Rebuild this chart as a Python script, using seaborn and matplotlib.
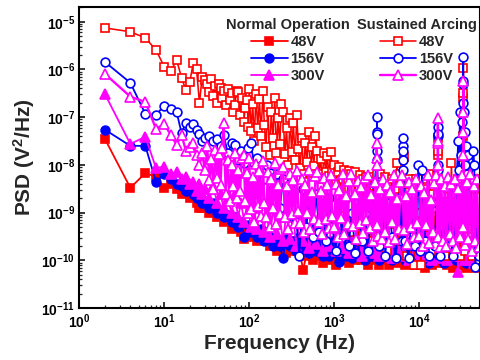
import matplotlib
matplotlib.use("Agg")
import matplotlib.pyplot as plt
import numpy as np
import seaborn as sns

# frequency grid of the normal-operation traces and of the 156V arcing trace (Hz)
freq = [
    2, 4, 6, 8, 10, 12, 14, 16, 18, 20,
    22, 24, 26, 28, 30, 34, 38, 42, 46, 50,
    56, 62, 68, 74, 80, 88, 96, 104, 114, 124,
    136, 148, 160, 176, 192, 210, 230, 250, 274, 300,
    330, 360, 390, 430, 470, 510, 560, 610, 670, 730,
    800, 870, 950, 1040, 1140, 1240, 1360, 1480, 1620, 1770,
    1930, 2100, 2300, 2500, 2740, 3000, 3190, 3195, 3200, 3205,
    3210, 3400, 3700, 4000, 4400, 4800, 5300, 5800, 6200, 6490,
    6495, 6500, 6505, 6510, 6900, 7500, 8200, 9000, 9800, 10300,
    10800, 11800, 12900, 14000, 15300, 16680, 16690, 16700, 16710, 16720,
    17800, 19400, 21100, 23000, 25100, 27300, 28800, 29500, 30200, 31000,
    31800, 32600, 32900, 33000, 33100, 33400, 34200, 35000, 36000, 37000,
    38000, 39500, 41500, 43400, 44500, 46000, 48000, 50000,
]

# denser grid for the 48V and 300V arcing traces, which form the big clouds (Hz)
freq_dense = [
    2, 4, 6, 8, 10, 12, 14, 16, 18, 20, 22, 24, 26, 28, 30,
    32, 34, 36, 38, 40, 42, 44, 46, 48, 50,
    53, 56, 59, 62, 65, 68, 71, 74, 78, 82,
    86, 90, 94, 98,
    100, 105, 110, 115, 120, 126, 132, 138, 145, 151,
    158, 166, 174, 182, 191, 200, 209, 219, 229, 240,
    251, 263, 275, 288, 302, 316, 331, 347, 363, 380,
    398, 417, 437, 457, 479, 501, 525, 550, 575, 603,
    631, 661, 692, 724, 759, 794, 832, 871, 912, 955,
    1000, 1050, 1100, 1150, 1200, 1260, 1320, 1380, 1450, 1510,
    1580, 1660, 1740, 1820, 1910, 2000, 2090, 2190, 2290, 2400,
    2510, 2630, 2750, 2880, 3020, 3160, 3165, 3170, 3175, 3310, 3470, 3630, 3800,
    3980, 4170, 4370, 4570, 4790, 5010, 5250, 5500, 5750, 6030,
    6310, 6610, 6920, 7240, 7590, 7940, 8320, 8710, 9120, 9550,
    10000, 10500, 11000, 11500, 12000, 12600, 13200, 13800, 14500, 15100,
    15800, 16600, 16610, 16620, 16630, 16640, 17400, 18200, 19100, 20000,
    20900, 21900, 22900, 24000,
    25100, 26300, 27500, 28800, 30200, 31600, 33100, 33110, 33120, 33130,
    33140, 34700, 36300, 38000,
    39800, 41700, 43700, 45700, 47900, 50100,
]

# log10 of PSD (V^2/Hz)
normal_48 = [
    -7.45, -8.48, -8.17, -8.25, -8.48, -8.4, -8.5, -8.6, -8.55, -8.7,
    -8.65, -8.8, -8.9, -8.9, -8.85, -9.0, -8.95, -9.1, -9.05, -9.2,
    -9.15, -9.34, -9.2, -9.3, -9.4, -9.55, -9.3, -9.5, -9.34, -9.6,
    -9.45, -9.55, -9.5, -9.7, -9.55, -9.8, -9.6, -9.7, -9.85, -9.6,
    -9.8, -9.65, -9.75, -10.2, -9.9, -9.75, -10.0, -9.8, -9.9, -10.05,
    -9.85, -10.0, -9.8, -10.1, -9.9, -10.0, -9.85, -10.05, -9.9, -10.0,
    -9.8, -10.0, -9.9, -10.1, -9.85, -10.0, -9.7, -9.6, -9.5, -9.7,
    -9.9, -10.1, -9.85, -10.0, -10.1, -9.9, -10.05, -9.7, -10.0, -9.6,
    -9.5, -9.45, -9.6, -10.0, -10.1, -9.9, -10.0, -10.1, -9.8, -10.05,
    -10.0, -10.15, -9.9, -10.1, -10.0, -9.7, -9.5, -9.4, -9.6, -9.9,
    -10.05, -9.9, -10.1, -10.0, -10.15, -9.9, -10.0, -9.8, -10.1, -9.9,
    -10.0, -9.6, -9.3, -9.1, -9.4, -9.7, -10.1, -9.9, -10.15, -9.8,
    -10.05, -10.1, -9.9, -10.1, -10.0, -10.15, -9.95, -10.1,
]
normal_156 = [
    -7.26, -7.6, -7.6, -8.35, -8.2, -8.3, -8.4, -8.45, -8.55, -8.5,
    -8.6, -8.7, -8.65, -8.8, -8.75, -8.9, -8.8, -9.0, -8.95, -9.1,
    -9.05, -9.2, -9.1, -9.3, -9.2, -9.5, -9.25, -9.4, -9.3, -9.5,
    -9.35, -9.6, -9.4, -9.5, -9.7, -9.6, -9.7, -9.95, -9.5, -9.7,
    -9.6, -9.8, -9.5, -9.75, -9.6, -9.85, -9.55, -9.8, -9.6, -9.9,
    -9.7, -9.9, -9.6, -9.85, -10.03, -9.7, -9.9, -9.6, -9.95, -9.7,
    -9.9, -9.7, -10.0, -9.6, -9.9, -9.7, -9.6, -9.5, -9.4, -9.6,
    -9.9, -10.0, -9.7, -9.9, -9.6, -10.0, -9.8, -9.9, -9.7, -9.5,
    -9.4, -9.3, -9.5, -9.9, -10.0, -9.7, -9.9, -9.6, -9.4, -10.0,
    -9.8, -9.9, -10.05, -9.7, -9.9, -9.6, -9.4, -9.3, -9.5, -9.8,
    -9.9, -10.05, -9.7, -9.95, -9.8, -10.0, -9.7, -9.9, -9.6, -10.0,
    -9.8, -9.5, -9.2, -9.0, -9.3, -9.6, -10.0, -9.8, -10.05, -9.7,
    -9.9, -10.0, -9.8, -10.05, -9.9, -10.0, -9.85, -10.1,
]
normal_300 = [
    -6.51, -7.56, -7.41, -8.06, -8.04, -8.2, -8.15, -8.3, -8.25, -8.4,
    -8.35, -8.55, -8.4, -8.6, -8.5, -8.7, -8.45, -8.8, -8.6, -8.9,
    -8.7, -9.0, -8.6, -9.1, -8.8, -9.2, -8.7, -9.3, -8.9, -9.35,
    -8.8, -9.4, -9.0, -9.5, -8.9, -9.45, -9.1, -9.6, -9.0, -9.55,
    -9.1, -9.7, -9.2, -9.6, -9.0, -9.75, -9.3, -9.65, -9.1, -9.8,
    -9.3, -9.7, -9.1, -9.8, -9.4, -9.75, -9.2, -9.85, -9.4, -9.8,
    -9.3, -9.9, -9.4, -9.8, -9.2, -9.85, -9.3, -8.8, -8.6, -9.0,
    -9.4, -9.9, -9.3, -9.8, -9.5, -9.95, -9.2, -9.85, -9.4, -9.0,
    -8.9, -9.1, -9.3, -9.9, -9.4, -10.0, -9.3, -9.85, -9.5, -9.95,
    -9.3, -9.9, -9.4, -10.0, -9.5, -9.2, -8.8, -8.6, -8.9, -9.3,
    -9.95, -9.4, -10.0, -9.5, -9.9, -9.3, -10.24, -9.6, -9.9, -9.5,
    -9.9, -9.2, -8.9, -8.6, -8.9, -9.3, -10.0, -9.6, -9.95, -9.5,
    -10.0, -9.6, -9.9, -9.5, -10.05, -9.7, -9.9, -9.8,
]
arcing_156 = [
    -5.84, -6.28, -6.93, -6.95, -6.76, -6.82, -6.89, -7.33, -7.12, -7.2,
    -7.15, -7.26, -7.35, -7.5, -7.43, -7.4, -7.5, -7.45, -7.6, -7.37,
    -7.75, -7.55, -7.58, -7.9, -7.7, -7.95, -7.64, -7.54, -7.96, -7.85,
    -8.1, -8.3, -8.0, -8.17, -8.5, -8.2, -8.9, -8.3, -9.1, -8.4,
    -8.6, -9.2, -9.9, -8.5, -9.3, -8.7, -9.5, -8.6, -9.4, -8.8,
    -9.6, -8.7, -9.3, -9.8, -8.8, -9.5, -8.7, -9.7, -9.0, -9.85,
    -8.8, -9.6, -9.0, -9.8, -8.9, -8.4, -7.7, -7.3, -7.0, -7.35,
    -7.9, -9.7, -8.6, -9.9, -8.8, -9.5, -9.95, -8.7, -9.6, -7.9,
    -7.6, -7.43, -7.7, -8.1, -9.6, -9.95, -8.9, -9.7, -8.0, -9.8,
    -8.1, -9.6, -9.9, -8.8, -9.7, -8.0, -7.4, -7.2, -7.35, -8.1,
    -9.9, -9.0, -9.7, -8.9, -9.9, -8.5, -7.5, -8.1, -6.9, -7.8,
    -7.1, -6.7, -6.3, -5.73, -6.25, -6.9, -7.3, -8.0, -7.6, -8.2,
    -7.8, -9.0, -8.3, -7.7, -8.0, -10.14, -9.2, -9.9,
]
arcing_48 = [
    -5.13, -5.21, -5.34, -5.59, -5.94, -6.03, -5.8, -6.17, -6.43, -6.26,
    -5.86, -5.99, -6.7, -6.15, -6.22,
    -6.3, -6.47, -6.2, -6.55, -6.35, -6.7, -6.3, -6.38, -6.6, -6.45,
    -6.75, -6.4, -6.65, -6.5, -6.9, -6.74, -6.45, -6.47, -6.95, -6.6,
    -7.1, -6.8, -6.65, -7.2,
    -6.4, -7.28, -6.73, -7.5, -6.51, -7.23, -6.62, -7.39, -6.46, -7.17,
    -7.62, -6.78, -7.8, -6.9, -7.44, -6.6, -7.74, -7.02, -7.56, -6.72,
    -6.9, -7.78, -7.23, -8.0, -7.01, -7.73, -7.12, -7.89, -6.96, -7.67,
    -8.07, -7.44, -8.2, -7.53, -7.93, -7.3, -8.16, -7.62, -8.02, -7.39,
    -7.7, -8.18, -7.88, -8.3, -7.76, -8.15, -7.82, -8.24, -7.73, -8.12,
    -8.0, -8.4, -8.15, -8.05, -8.9, -8.3, -8.1, -9.2, -8.35, -8.12,
    -8.2, -9.4, -8.15, -8.8, -9.6, -8.22, -9.0, -8.3, -9.5, -8.25,
    -9.3, -8.25, -9.6, -8.6, -9.1, -8.3, -8.2, -8.6, -9.0, -9.5, -8.2, -9.6, -8.9,
    -8.25, -9.8, -8.8, -9.4, -8.3, -9.6, -8.5, -7.95, -9.4, -8.2,
    -8.7, -7.83, -8.4, -9.9, -8.3, -9.5, -8.9, -10.1, -8.3, -9.6,
    -9.0, -10.1, -8.3, -9.7, -8.5, -9.3, -8.2, -9.8, -8.6, -9.4,
    -8.9, -8.4, -7.8, -7.43, -7.7, -8.3, -9.8, -8.4, -9.3, -8.6,
    -9.9, -8.5, -9.4, -7.96,
    -9.9, -8.6, -9.4, -8.3, -9.9, -8.2, -7.4, -6.6, -5.96, -6.5,
    -8.0, -9.8, -8.6, -9.5,
    -8.3, -9.9, -8.5, -9.6, -8.3, -10.0,
]
arcing_300 = [
    -6.09, -6.57, -6.68, -7.24, -7.15, -7.37, -7.58, -7.37, -7.7, -7.62,
    -7.55, -7.8, -8.0, -7.75, -8.1,
    -7.6, -8.32, -7.87, -8.5, -7.69, -8.28, -7.78, -8.41, -7.65, -7.12,
    -8.6, -7.9, -8.75, -8.0, -8.45, -7.75, -8.7, -8.1, -8.55, -7.85,
    -7.8, -8.76, -8.16, -9.0,
    -7.85, -8.93, -8.26, -9.2, -7.99, -8.86, -8.12, -9.07, -7.92, -8.8,
    -9.1, -8.15, -9.3, -8.29, -8.9, -7.95, -9.23, -8.42, -9.03, -8.09,
    -8.05, -9.09, -8.44, -9.35, -8.18, -9.03, -8.31, -9.22, -8.12, -8.96,
    -9.21, -8.3, -9.4, -8.43, -9.01, -8.1, -9.34, -8.56, -9.14, -8.23,
    -8.15, -9.19, -8.54, -9.45, -8.28, -9.13, -8.41, -9.32, -8.22, -9.06,
    -9.31, -8.4, -9.5, -8.53, -9.11, -8.2, -9.44, -8.66, -9.24, -8.33,
    -8.2, -9.28, -8.61, -9.55, -8.34, -9.21, -8.47, -9.42, -8.27, -9.15,
    -8.22, -9.32, -8.63, -9.6, -8.36, -9.26, -7.85, -7.55, -8.0, -9.48, -8.5, -9.55, -8.3,
    -9.41, -8.43, -9.62, -8.57, -9.2, -8.22, -9.55, -8.71, -9.34, -8.36,
    -8.22, -9.36, -8.65, -9.65, -8.36, -9.29, -8.51, -9.51, -8.29, -9.22,
    -9.48, -8.44, -9.7, -8.59, -9.26, -8.22, -9.63, -8.74, -9.4, -8.37,
    -8.22, -9.5, -7.55, -7.02, -7.5, -8.0, -9.72, -8.3, -9.6, -8.45,
    -9.7, -8.25, -9.45, -8.4,
    -9.6, -8.3, -9.75, -8.5, -9.5, -8.22, -9.3, -7.3, -6.24, -6.9,
    -7.8, -9.67, -8.35, -9.55,
    -8.2, -9.8, -8.45, -9.6, -8.3, -9.72,
]

fill_colors = {
    "48V": "#ff0000",
    "156V": "#0000ff",
    "300V": "#ff00ff",
}
markers = {"48V": "s", "156V": "o", "300V": "^"}


def draw_series(ax, x, values, volt, filled, lw=1.3):
    c = fill_colors[volt]
    sns.lineplot(
        x=x, y=np.power(10.0, values), ax=ax, estimator=None, sort=False,
        color=c, linewidth=lw, marker=markers[volt],
        markersize=7 if volt == "300V" else 6.3,
        markerfacecolor=c if filled else "white",
        markeredgecolor=c, markeredgewidth=1.2, legend=False,
    )
    return ax.get_lines()[-1]


def main():
    sns.set_style("ticks")
    plt.rcParams["font.family"] = ["Liberation Sans", "DejaVu Sans"]
    plt.rcParams["font.weight"] = "bold"
    plt.rcParams["mathtext.fontset"] = "custom"
    plt.rcParams["mathtext.rm"] = "Liberation Sans:bold"
    plt.rcParams["mathtext.bf"] = "Liberation Sans:bold"
    plt.rcParams["mathtext.it"] = "Liberation Sans:bold"
    plt.rcParams["mathtext.default"] = "bf"

    fig = plt.figure(figsize=(4.8, 3.6), dpi=100)
    ax = fig.add_axes([0.165, 0.144, 0.835, 0.837])

    normal = [
        draw_series(ax, freq, normal_48, "48V", True),
        draw_series(ax, freq, normal_156, "156V", True),
        draw_series(ax, freq, normal_300, "300V", True),
    ]
    arcing = [
        draw_series(ax, freq_dense, arcing_48, "48V", False, lw=1.15),
        draw_series(ax, freq, arcing_156, "156V", False),
        draw_series(ax, freq_dense, arcing_300, "300V", False, lw=1.7),
    ]

    ax.set_xscale("log")
    ax.set_yscale("log")
    ax.set_xlim(1, 5.2e4)
    ax.set_ylim(1e-11, 2.05e-5)
    ax.yaxis.set_major_locator(matplotlib.ticker.LogLocator(base=10, numticks=10))
    ax.yaxis.set_minor_locator(matplotlib.ticker.LogLocator(base=10, subs=np.arange(2, 10), numticks=20))
    ax.xaxis.set_minor_locator(matplotlib.ticker.LogLocator(base=10, subs=np.arange(2, 10), numticks=20))
    ax.xaxis.set_minor_formatter(matplotlib.ticker.NullFormatter())
    ax.yaxis.set_minor_formatter(matplotlib.ticker.NullFormatter())

    for side in ["left", "bottom", "top", "right"]:
        ax.spines[side].set_linewidth(1.5)
        ax.spines[side].set_color("black")
    ax.tick_params(which="major", direction="in", length=4, width=1.1,
                   labelsize=10, pad=3, colors="black")
    ax.tick_params(which="minor", direction="in", length=2.2, width=0.9)

    ax.set_xlabel("Frequency (Hz)", fontsize=15, fontweight="bold", labelpad=2)
    ax.set_ylabel("PSD (V$^2$/Hz)", fontsize=15, fontweight="bold", labelpad=3)

    labels = ["48V", "156V", "300V"]
    leg_kw = dict(frameon=False, fontsize=10.5, handlelength=2.5, handletextpad=0.2,
                  labelspacing=0.22, borderpad=0.1, loc="upper center",
                  bbox_transform=fig.transFigure,
                  title_fontproperties={"weight": "bold", "size": 10.5})
    leg1 = ax.legend(normal, labels, title="Normal Operation",
                     bbox_to_anchor=(0.6, 0.975), **leg_kw)
    ax.add_artist(leg1)
    ax.legend(arcing, labels, title="Sustained Arcing",
              bbox_to_anchor=(0.868, 0.975), **leg_kw)

    plt.savefig("out.png", dpi=100)
    plt.close()


if __name__ == "__main__":
    main()
